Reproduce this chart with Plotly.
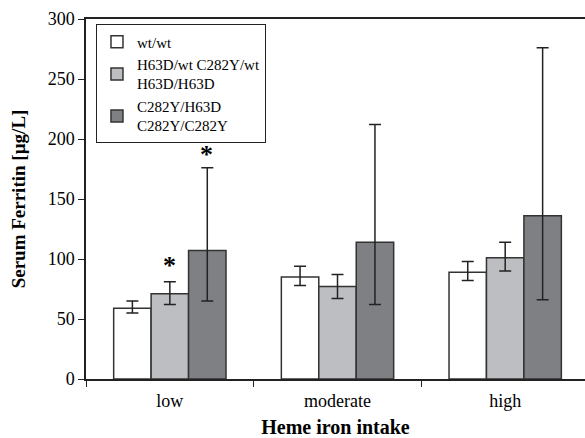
import plotly.graph_objects as go

categories = ["low", "moderate", "high"]
series_names = ["wt/wt", "H63D/wt C282Y/wt<br>H63D/H63D", "C282Y/H63D<br>C282Y/C282Y"]
values_wt = [59, 85, 89]
values_het = [71, 77, 101]
values_hom = [107, 114, 136]
upper_wt = [65, 94, 98]
lower_wt = [55, 78, 82]
upper_het = [81, 87, 114]
lower_het = [62, 67, 90]
upper_hom = [176, 212, 276]
lower_hom = [65, 62, 66]
colors = ["#ffffff", "#bdbec2", "#7f8084"]

series = [
    (values_wt, upper_wt, lower_wt),
    (values_het, upper_het, lower_het),
    (values_hom, upper_hom, lower_hom),
]

font_family = "Liberation Serif, Times New Roman, serif"

fig = go.Figure()
for name, color, (vals, up, lo) in zip(series_names, colors, series):
    fig.add_trace(go.Bar(
        x=categories, y=vals, name=name,
        marker=dict(color=color, line=dict(color="#333333", width=1.5)),
        error_y=dict(type="data", symmetric=False,
                     array=[u - v for u, v in zip(up, vals)],
                     arrayminus=[v - l for v, l in zip(vals, lo)],
                     color="#222222", thickness=1.5, width=6),
    ))

fig.add_annotation(x="low", y=upper_het[0], yref="y", text="<b>*</b>", showarrow=False,
                   yshift=16, font=dict(size=26, color="black", family=font_family))
fig.add_annotation(x="low", y=upper_hom[0], yref="y", text="<b>*</b>", showarrow=False,
                   xshift=37, yshift=13, font=dict(size=26, color="black", family=font_family))

fig.update_layout(
    width=585, height=438,
    margin=dict(l=86, r=0, t=19, b=59, autoexpand=False),
    plot_bgcolor="white", paper_bgcolor="white",
    barmode="group", bargap=0.33, bargroupgap=0,
    font=dict(family=font_family, size=18, color="black"),
    showlegend=True,
    legend=dict(x=0.02, y=0.985, xanchor="left", yanchor="top",
                bordercolor="#222222", borderwidth=1, bgcolor="white",
                font=dict(size=15, family=font_family),
                itemwidth=30, tracegroupgap=0),
    xaxis=dict(
        range=[-0.5, 2.476], showline=True, linecolor="#222222", linewidth=1.5,
        mirror=True, ticks="outside", tickson="boundaries", ticklen=6,
        tickcolor="#222222", tickfont=dict(size=18), automargin=False,
        ticklabelstandoff=5,
        title=dict(text="<b>Heme iron intake</b>", font=dict(size=20), standoff=15),
    ),
    yaxis=dict(
        range=[0, 300], dtick=50, showline=True, linecolor="#222222", linewidth=1.5,
        ticks="outside", ticklen=6, tickcolor="#222222", showgrid=False, zeroline=False,
        tickfont=dict(size=18), automargin=False,
        title=dict(text="<b>Serum Ferritin [µg/L]</b>", font=dict(size=19), standoff=17),
    ),
)

fig.write_html("out.html", config={"displayModeBar": False},
               post_script="document.body.style.margin='0';document.body.style.overflow='hidden';")
